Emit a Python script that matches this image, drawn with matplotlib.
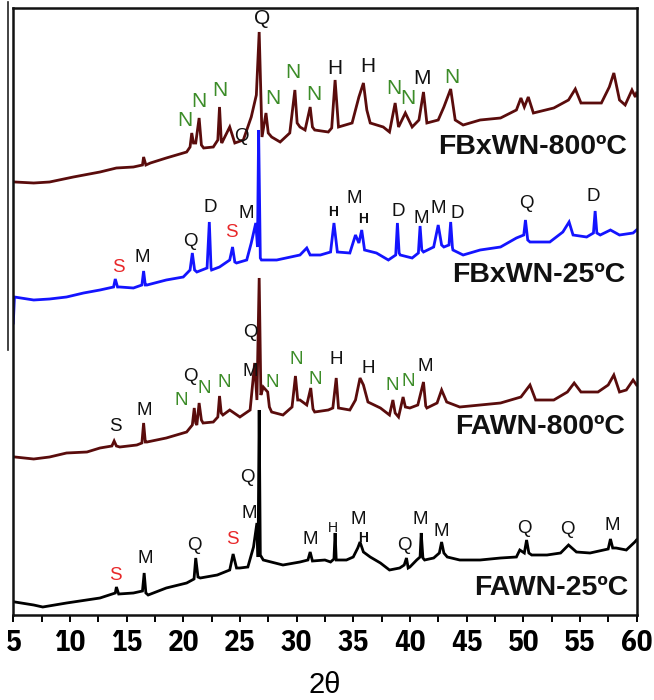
import matplotlib
matplotlib.use("Agg")
import matplotlib.pyplot as plt
from matplotlib.lines import Line2D
import numpy as np

# ---------------- data (2theta, intensity a.u.) ----------------
fawn25_tt = [5.15, 6.8, 7.6, 9.7, 12.65, 14.0, 14.1, 14.3, 15.6, 16.4, 16.55, 16.7, 16.9, 18.5, 20.3,
             20.95, 21.1, 21.3, 21.5, 23.0, 24.1, 24.4, 24.7, 25.0, 25.7, 26.2, 26.5, 26.6, 26.7, 26.8,
             27.06, 28.8, 30.3, 31.0, 31.2, 31.4, 32.5, 33.0, 33.3, 33.4, 33.5, 34.4, 35.0, 35.4, 35.6,
             35.9, 36.5, 37.4, 38.2, 39.1, 39.5, 39.7, 39.85, 40.0, 40.6, 40.9, 41.0, 41.15, 41.3, 42.1,
             42.6, 42.8, 43.0, 43.3, 44.4, 46.2, 48.0, 49.4, 49.7, 50.1, 50.3, 50.5, 50.75, 52.1, 53.3,
             54.0, 54.7, 55.9, 57.1, 57.5, 57.7, 57.9, 58.2, 59.1, 59.85, 60.0]
fawn25_i = [13, 10, 8, 12, 17, 22, 28, 21, 22, 24, 42, 22, 20, 27, 32,
            36, 57, 38, 37, 40, 45, 61, 47, 47, 48, 68, 92, 58, 205, 60,
            55, 50, 53, 55, 63, 54, 55, 53, 56, 82, 55, 55, 58, 67, 73,
            63, 58, 52, 45, 47, 50, 57, 47, 48, 55, 58, 82, 57, 55, 57,
            62, 73, 62, 58, 55, 55, 57, 58, 65, 62, 75, 62, 60, 60, 62,
            70, 63, 62, 65, 66, 76, 67, 67, 65, 73, 75]

fawn800_tt = [5.15, 6.8, 8.2, 9.7, 11.5, 12.65, 13.7, 13.9, 14.1, 14.4, 15.9, 16.35, 16.5, 16.65, 16.8,
              18.5, 20.3, 20.8, 20.97, 21.1, 21.2, 21.4, 21.6, 21.75, 22.65, 23.05, 23.2, 23.35, 23.5,
              24.1, 25.0, 25.9, 26.3, 26.5, 26.7, 26.85, 27.06, 27.45, 27.6, 27.8, 28.8, 29.6, 29.9,
              30.1, 30.3, 30.9, 31.25, 31.45, 31.6, 32.8, 33.2, 33.5, 33.7, 34.7, 35.2, 35.6, 35.9,
              36.3, 37.4, 38.2, 38.5, 38.7, 39.0, 39.4, 39.6, 40.0, 40.7, 41.2, 41.4, 41.5, 42.4, 42.8,
              43.25, 44.4, 46.2, 48.0, 49.8, 50.6, 51.1, 52.7, 53.9, 54.5, 55.1, 56.6, 57.5, 58.0, 58.5,
              59.1, 59.7, 60.0]
fawn800_i = [8, 6, 8, 12, 13, 17, 19, 24, 19, 18, 20, 22, 42, 23, 23,
             27, 33, 40, 57, 42, 40, 62, 45, 42, 43, 48, 69, 52, 50,
             55, 48, 55, 102, 65, 187, 70, 78, 73, 58, 53, 50, 58, 89,
             65, 65, 60, 77, 56, 53, 55, 57, 87, 57, 55, 65, 87, 80,
             63, 57, 50, 65, 52, 48, 68, 58, 57, 60, 83, 59, 57, 62, 75,
             63, 58, 60, 62, 68, 80, 65, 65, 73, 82, 73, 73, 80, 90, 73,
             75, 85, 80]

fbxwn25_tt = [5.0, 5.1, 6.8, 8.2, 9.7, 11.2, 12.65, 13.85, 14.0, 14.2, 14.4, 15.6, 16.35, 16.5, 16.65,
              16.8, 18.5, 20.0, 20.6, 20.8, 21.0, 21.2, 22.1, 22.3, 22.45, 22.5, 23.2, 24.1, 24.35,
              24.55, 24.7, 25.6, 26.0, 26.4, 26.55, 26.65, 26.8, 26.9, 28.25, 30.3, 30.9, 31.2, 32.1,
              33.0, 33.3, 33.6, 34.7, 35.2, 35.5, 35.75, 36.0, 37.05, 38.1, 38.75, 38.9, 39.05, 39.15,
              40.2, 40.75, 40.9, 41.05, 41.2, 42.1, 42.5, 42.8, 43.0, 43.45, 43.6, 43.75, 43.8, 44.7,
              46.2, 48.0, 49.4, 50.05, 50.2, 50.4, 50.6, 52.35, 53.5, 54.05, 54.4, 55.6, 56.2, 56.35,
              56.5, 56.8, 57.7, 58.5, 59.7, 60.0]
fbxwn25_i = [2, 28, 25, 26, 28, 32, 35, 38, 46, 38, 38, 37, 40, 54, 40,
             40, 45, 48, 55, 72, 55, 53, 57, 103, 57, 55, 58, 65, 78,
             63, 62, 65, 82, 102, 78, 195, 67, 65, 65, 70, 77, 70, 70,
             73, 102, 73, 72, 90, 82, 95, 75, 72, 65, 70, 102, 72, 70,
             67, 72, 99, 75, 73, 78, 100, 80, 78, 80, 103, 78, 75, 70,
             75, 78, 87, 90, 105, 85, 83, 83, 93, 103, 90, 88, 92, 114,
             92, 90, 95, 90, 92, 95]

fbxwn800_tt = [5.15, 6.8, 8.2, 10.3, 12.65, 14.1, 15.6, 16.4, 16.5, 16.7, 17.1, 18.5, 20.3, 20.6, 20.75,
               20.9, 21.1, 21.4, 21.6, 21.8, 22.65, 23.05, 23.2, 23.35, 23.4, 24.1, 24.55, 25.3, 26.0,
               26.45, 26.7, 26.95, 27.3, 27.5, 27.8, 28.55, 29.4, 29.85, 30.05, 30.3, 30.75, 31.2, 31.4,
               31.6, 32.8, 33.1, 33.4, 33.7, 34.9, 35.5, 35.9, 36.2, 36.5, 37.65, 38.2, 38.7, 39.0, 39.6,
               40.2, 40.8, 41.2, 41.5, 42.5, 43.0, 43.6, 44.0, 44.7, 46.2, 48.0, 49.4, 49.8, 50.1, 50.45,
               50.9, 52.7, 54.0, 54.6, 55.1, 56.9, 57.6, 58.0, 58.5, 59.0, 59.6, 59.9, 60.0]
fbxwn800_i = [3, 2, 3, 8, 13, 17, 18, 20, 28, 20, 22, 27, 33, 38, 52,
              42, 42, 67, 40, 37, 38, 45, 78, 45, 42, 58, 42, 45, 68,
              90, 153, 48, 72, 52, 48, 43, 52, 95, 62, 58, 55, 78, 58,
              55, 53, 57, 105, 58, 62, 88, 102, 75, 62, 58, 53, 82, 58, 72,
              58, 65, 93, 62, 65, 78, 96, 65, 60, 65, 67, 75, 87, 78, 88,
              72, 77, 85, 96, 82, 82, 98, 112, 85, 80, 95, 88, 92]

offsets = {"FAWN-25ºC": 0, "FAWN-800ºC": 150, "FBxWN-25ºC": 290, "FBxWN-800ºC": 430}
names = ["FAWN-25ºC", "FAWN-800ºC", "FBxWN-25ºC", "FBxWN-800ºC"]
colors = ["#000000", "#5a0c0c", "#1414ff", "#5a0c0c"]
series = [(fawn25_tt, fawn25_i), (fawn800_tt, fawn800_i),
          (fbxwn25_tt, fbxwn25_i), (fbxwn800_tt, fbxwn800_i)]

# peak labels: (2theta, y, letter, colour, size-key)
G, R, K = "#3c8c28", "#e8282a", "#111111"
peak_labels = [
    # FBxWN-800
    (26.92, 596.7, "Q", K, "big"), (20.15, 495, "N", G, "big"), (21.39, 513.3, "N", G, "big"),
    (23.24, 525, "N", G, "big"), (25.16, 478.3, "Q", K, "mid"), (27.95, 516.7, "N", G, "big"),
    (29.71, 542.3, "N", G, "big"), (31.54, 520, "N", G, "big"), (33.39, 546.7, "H", K, "big"),
    (36.28, 549, "H", K, "big"), (38.6, 526.7, "N", G, "big"), (39.78, 516.7, "N", G, "big"),
    (41.05, 536.7, "M", K, "big"), (43.69, 537.7, "N", G, "big"),
    # FBxWN-25
    (14.27, 347.7, "S", R, "mid"), (16.42, 357.7, "M", K, "mid"), (20.66, 373.3, "Q", K, "mid"),
    (22.42, 407.7, "D", K, "mid"), (24.21, 382.3, "S", R, "mid"), (25.6, 401.7, "M", K, "mid"),
    (33.24, 402.7, "H", K, "smallb"), (35.1, 416.7, "M", K, "mid"), (35.89, 395.7, "H", K, "smallb"),
    (38.98, 403.3, "D", K, "mid"), (40.96, 396.7, "M", K, "mid"), (42.51, 406.7, "M", K, "mid"),
    (44.14, 401, "D", K, "mid"), (50.25, 411.7, "Q", K, "mid"), (56.14, 418.3, "D", K, "mid"),
    # FAWN-800
    (13.98, 188.3, "S", K, "mid"), (16.54, 204.3, "M", K, "mid"), (20.66, 238.3, "Q", K, "mid"),
    (19.86, 214.3, "N", G, "mid"), (21.83, 226.7, "N", G, "mid"), (23.6, 232.3, "N", G, "mid"),
    (25.89, 243.3, "M", K, "mid"), (25.95, 282.3, "Q", K, "mid"), (27.81, 232.3, "N", G, "mid"),
    (29.93, 255, "N", G, "mid"), (31.63, 235.7, "N", G, "mid"), (33.54, 255.7, "H", K, "mid"),
    (36.33, 246.7, "H", K, "mid"), (38.48, 229, "N", G, "mid"), (39.86, 234, "N", G, "mid"),
    (41.34, 248.3, "M", K, "mid"),
    # FAWN-25
    (13.98, 40, "S", R, "mid"), (16.62, 56.7, "M", K, "mid"), (20.95, 70, "Q", K, "mid"),
    (24.36, 75.7, "S", R, "mid"), (25.83, 101, "M", K, "mid"), (25.65, 137.7, "Q", K, "mid"),
    (31.19, 75.7, "M", K, "mid"), (33.24, 86.7, "H", K, "small"), (35.4, 95.7, "M", K, "mid"),
    (35.89, 76.7, "H", K, "smallb"), (39.48, 69, "Q", K, "mid"), (40.9, 95, "M", K, "mid"),
    (42.81, 83.3, "M", K, "mid"), (50.14, 86.7, "Q", K, "mid"), (53.9, 86, "Q", K, "mid"),
    (57.82, 90, "M", K, "mid"),
]
name_pos = {"FBxWN-800ºC": (59.14, 468.3), "FBxWN-25ºC": (58.99, 340),
            "FAWN-800ºC": (58.99, 187.7), "FAWN-25ºC": (59.25, 27)}
xticks = [5, 10, 15, 20, 25, 30, 35, 40, 45, 50, 55, 60]

# ---------------- figure ----------------
W, H = 654, 700
fig = plt.figure(figsize=(W / 100, H / 100), dpi=100)
ax = fig.add_axes([13.3 / W, 1 - 615 / H, (636.5 - 13.3) / W, (615 - 8) / H])

for name, col, (tt, inten) in zip(names, colors, series):
    ax.plot(tt, np.array(inten) + offsets[name], color=col, lw=2.0, solid_joinstyle="miter")

sizes = {"big": (15, "normal"), "mid": (13.5, "normal"), "small": (10, "normal"), "smallb": (10, "bold")}
for x, y, s, c, k in peak_labels:
    fs, fw = sizes[k]
    ax.text(x, y, s, color=c, fontsize=fs, fontweight=fw, ha="center", va="center",
            family="Liberation Sans")

for name in names:
    x, y = name_pos[name]
    ax.text(x, y, name, fontsize=20.5, fontweight="bold", ha="right", va="center",
            family="Liberation Sans", color="#111111")

ax.set_xlim(5, 60)
ax.set_ylim(0, 607)
ax.set_yticks([])
ax.set_xticks(xticks)
ax.set_xticks(np.arange(5, 60.1, 2.5), minor=True)
ax.set_xticklabels([str(t) for t in xticks], fontsize=21, fontweight="bold",
                   family=["IBM Plex Sans Condensed", "Liberation Sans"])
ax.tick_params(axis="x", which="both", direction="out", length=5, width=1.4, pad=5)
for sp in ax.spines.values():
    sp.set_linewidth(1.8)
    sp.set_color("#111111")

fig.text(0.497, 1 - 685 / H, "2θ", fontsize=21, ha="center", va="center", family="Liberation Sans")
fig.add_artist(Line2D([7.5 / W, 7.5 / W], [1 - 2 / H, 1 - 350 / H], color="#222222", lw=1.2))

fig.savefig("out.png", dpi=100)
